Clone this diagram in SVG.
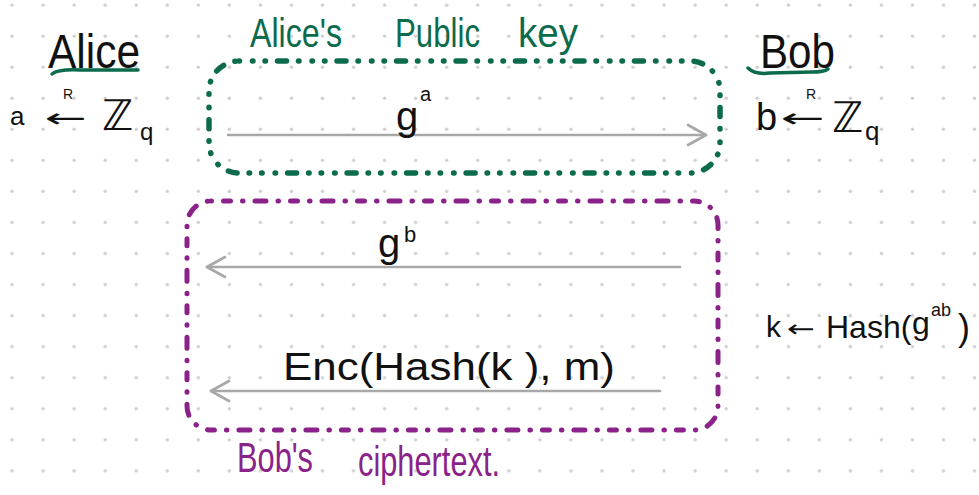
<svg xmlns="http://www.w3.org/2000/svg" width="979" height="495" viewBox="0 0 979 495">
<defs>
<pattern id="grid" x="0" y="0" width="31.05" height="31.05" patternUnits="userSpaceOnUse">
<circle cx="12" cy="5" r="1.7" fill="#cfcfcf"/>
</pattern>
<marker id="chev" viewBox="0 0 24 26" markerWidth="24" markerHeight="26" refX="21" refY="13" orient="auto" markerUnits="userSpaceOnUse">
<path d="M3,3 L21,13 L3,23" fill="none" stroke="#a8a8a8" stroke-width="2.6" stroke-linecap="round" stroke-linejoin="round"/>
</marker>
<style>
.hw{font-family:"Liberation Sans","DejaVu Sans",sans-serif;fill:#111}
.zz{font-family:"DejaVu Sans",sans-serif}
.green{fill:#0b6b4c}
.purple{fill:#8a2289}
.arrow{stroke:#a8a8a8;stroke-width:2.6;fill:none;stroke-linecap:round}
.gbox{fill:none;stroke:#0b6b4c;stroke-width:5.5;stroke-linecap:round;stroke-dasharray:0.5 13 0.5 12 0.5 12 9 12}
.pbox{fill:none;stroke:#8a2289;stroke-width:5;stroke-linecap:round;stroke-dasharray:0.5 12 7 12 0.5 12 11 12}
</style>
</defs>
<rect width="979" height="495" fill="#ffffff"/>
<rect width="979" height="495" fill="url(#grid)"/>

<g id="alice">
<text class="hw" x="48" y="68" font-size="48" textLength="92" lengthAdjust="spacingAndGlyphs">Alice</text>
<path d="M52,74 Q58,69 80,70 L138,70" fill="none" stroke="#0b6b4c" stroke-width="3.5" stroke-linecap="round"/>
<text class="hw" font-size="26"><tspan x="10" y="125">a</tspan><tspan class="zz" x="45" y="127" font-size="26" textLength="42" lengthAdjust="spacingAndGlyphs">←</tspan><tspan x="63" y="99" font-size="14">R</tspan><tspan class="zz" x="102" y="130" font-size="42">ℤ</tspan><tspan x="140" y="140" font-size="24">q</tspan></text>
</g>

<g id="bob">
<text class="hw" x="760" y="68" font-size="48" textLength="75" lengthAdjust="spacingAndGlyphs">Bob</text>
<path d="M748,68 Q755,75 770,73 L812,72 Q824,72 828,69" fill="none" stroke="#0b6b4c" stroke-width="3.5" stroke-linecap="round"/>
<text class="hw" font-size="38"><tspan x="756" y="130">b</tspan><tspan class="zz" x="781" y="127" font-size="26" textLength="44" lengthAdjust="spacingAndGlyphs">←</tspan><tspan x="806" y="99" font-size="14">R</tspan><tspan class="zz" x="832" y="132" font-size="42">ℤ</tspan><tspan x="865" y="140" font-size="26">q</tspan></text>
</g>

<g id="alice-public-key">
<text class="hw green" font-size="40"><tspan x="250" y="47" textLength="92" lengthAdjust="spacingAndGlyphs">Alice's</tspan><tspan x="395" y="47" textLength="85" lengthAdjust="spacingAndGlyphs">Public</tspan><tspan x="518" y="47" textLength="60" lengthAdjust="spacingAndGlyphs">key</tspan></text>
<rect x="209" y="61" width="511" height="112" rx="30" class="gbox"/>
</g>

<g id="bobs-ciphertext">
<rect x="187" y="201" width="531" height="229" rx="24" class="pbox"/>
<text class="hw purple" font-size="42"><tspan x="237" y="472" textLength="76" lengthAdjust="spacingAndGlyphs">Bob's</tspan><tspan x="358" y="476" textLength="142" lengthAdjust="spacingAndGlyphs">ciphertext.</tspan></text>
</g>

<g id="bob-key">
<text class="hw" font-size="30"><tspan x="766" y="337">k</tspan><tspan class="zz" x="787" y="337" font-size="24" textLength="28" lengthAdjust="spacingAndGlyphs">←</tspan><tspan x="826" y="338" font-size="32">Hash(</tspan><tspan x="912" y="334" font-size="32">g</tspan><tspan x="931" y="316" font-size="18">ab</tspan><tspan x="958" y="340" font-size="36">)</tspan></text>
</g>

<g id="connectors">
<line x1="228" y1="135" x2="706" y2="135" class="arrow" marker-end="url(#chev)"/>
<line x1="680" y1="267" x2="207" y2="267" class="arrow" marker-end="url(#chev)"/>
<line x1="660" y1="391" x2="211" y2="391" class="arrow" marker-end="url(#chev)"/>
</g>

<g id="labels">
<text class="hw" font-size="40"><tspan x="396" y="130">g</tspan><tspan x="420" y="101" font-size="20">a</tspan></text>
<text class="hw" font-size="40"><tspan x="378" y="257">g</tspan><tspan x="404" y="242" font-size="22">b</tspan></text>
<text class="hw" x="283" y="380" font-size="38" textLength="332" lengthAdjust="spacingAndGlyphs">Enc(Hash(k ), m)</text>
</g>
</svg>
